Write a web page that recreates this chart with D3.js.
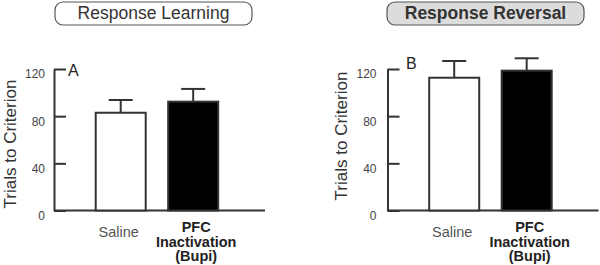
<!DOCTYPE html>
<html>
<head>
<meta charset="utf-8">
<script src="https://cdn.jsdelivr.net/npm/d3@7"></script>
<style>
  body { margin: 0; background: #fff; }
  svg { display: block; font-family: "Liberation Sans", Arial, sans-serif; }
</style>
</head>
<body>
<div id="chart"></div>
<script>
// data
const groups = ["Saline", "PFC"];
const groupLabels = [["Saline"], ["PFC", "Inactivation", "(Bupi)"]];
const learningMeans = [82.9, 92.3];
const learningErr = [10.8, 10.8];
const reversalMeans = [112.6, 118.6];
const reversalErr = [14.2, 10.5];
const yTicks = [0, 40, 80, 120];
const panelTitles = ["Response Learning", "Response Reversal"];
const panelLetters = ["A", "B"];

let width = 600,
    height = 265;

const svg = d3.select("#chart")
  .append("svg")
  .attr("width", width)
  .attr("height", height);

// shared y scale, both panels use the same vertical layout
let y = d3.scaleLinear()
  .domain([0, 120])
  .range([210.5, 69]);

const panels = [
  { axisX: 54, means: learningMeans, err: learningErr, title: panelTitles[0], letter: panelLetters[0],
    boxX: 55, boxFill: "#fff", bold: false, letterX: 68, letterY: 76, yTitleX: 15.5, yTitleY: 144, pad: 9 },
  { axisX: 387.5, means: reversalMeans, err: reversalErr, title: panelTitles[1], letter: panelLetters[1],
    boxX: 387, boxFill: "#dcdcdc", bold: true, letterX: 406, letterY: 68.5, yTitleX: 347, yTitleY: 136, pad: 11 }
];

panels.forEach(p => {
  const g = svg.append("g");

  // title box on top
  g.append("rect")
    .attr("x", p.boxX).attr("y", 2)
    .attr("width", 197).attr("height", 23)
    .attr("rx", 8)
    .attr("fill", p.boxFill)
    .attr("stroke", "#555")
    .attr("stroke-width", 1.2);
  g.append("text")
    .attr("x", p.boxX + 98.5).attr("y", 19)
    .attr("text-anchor", "middle")
    .attr("font-size", "17.5px")
    .attr("font-weight", p.bold ? "bold" : "normal")
    .attr("fill", "#333")
    .text(p.title);

  let x = d3.scaleBand()
    .domain(groups)
    .range([p.axisX + 41.7, p.axisX + 164.2])
    .paddingInner(0.31)
    .paddingOuter(0);

  // y axis, ticks point inward
  const yAxis = g.append("g")
    .attr("transform", `translate(${p.axisX},0)`)
    .call(d3.axisLeft(y).tickValues(yTicks).tickSize(-12).tickSizeOuter(0).tickPadding(p.pad));
  yAxis.select(".domain").attr("stroke", "#333").attr("stroke-width", 2);
  yAxis.selectAll(".tick line").attr("stroke", "#333").attr("stroke-width", 2);
  yAxis.selectAll(".tick text")
    .attr("font-size", "12px")
    .attr("font-family", "Liberation Sans, Arial, sans-serif")
    .attr("fill", "#444")
    .attr("x", -p.pad)
    .attr("dy", "0.32em")
    .attr("transform", "translate(0,5)");

  // baseline
  g.append("line")
    .attr("x1", p.axisX).attr("x2", p.axisX + 211)
    .attr("y1", y(0)).attr("y2", y(0))
    .attr("stroke", "#333").attr("stroke-width", 2);

  // y title
  g.append("text")
    .attr("transform", `translate(${p.yTitleX},${p.yTitleY}) rotate(-90)`)
    .attr("text-anchor", "middle")
    .attr("font-size", "17px")
    .attr("fill", "#333")
    .text("Trials to Criterion");

  // panel letter
  g.append("text")
    .attr("x", p.letterX).attr("y", p.letterY)
    .attr("font-size", "16px")
    .attr("fill", "#222")
    .text(p.letter);

  // error bars behind bars
  g.selectAll(".err")
    .data(groups)
    .join("g")
    .each(function(d, i) {
      const cx = x(d) + x.bandwidth() / 2;
      const top = y(p.means[i] + p.err[i]);
      d3.select(this).append("line")
        .attr("x1", cx).attr("x2", cx)
        .attr("y1", y(p.means[i])).attr("y2", top)
        .attr("stroke", "#333").attr("stroke-width", 2);
      d3.select(this).append("line")
        .attr("x1", cx - 12).attr("x2", cx + 12)
        .attr("y1", top).attr("y2", top)
        .attr("stroke", "#333").attr("stroke-width", 2);
    });

  // bars
  g.selectAll(".bar")
    .data(groups)
    .join("rect")
    .attr("x", d => x(d))
    .attr("y", (d, i) => y(p.means[i]))
    .attr("width", x.bandwidth())
    .attr("height", (d, i) => y(0) - y(p.means[i]))
    .attr("fill", (d, i) => i === 0 ? "#fff" : "#000")
    .attr("stroke", "#333")
    .attr("stroke-width", 2);

  // category labels
  groups.forEach((d, i) => {
    const lines = groupLabels[i];
    const t = g.append("text")
      .attr("text-anchor", "middle")
      .attr("font-size", "14.5px")
      .attr("font-weight", i === 0 ? "normal" : "bold")
      .attr("fill", i === 0 ? "#555" : "#222");
    lines.forEach((l, j) => {
      t.append("tspan")
        .attr("x", x(d) + x.bandwidth() / 2 + (i === 0 ? -2 : 3))
        .attr("y", (i === 0 ? 237 : 232) + j * 14.5)
        .text(l);
    });
  });
});
</script>
</body>
</html>
